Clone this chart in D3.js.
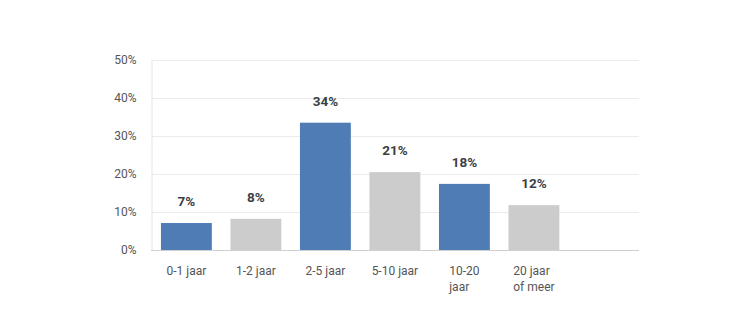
<!DOCTYPE html>
<html><head><meta charset="utf-8">
<script src="https://cdn.jsdelivr.net/npm/d3@7"></script>
<style>body{margin:0;background:#fff}</style>
</head><body>
<script>
const categories = [["0-1 jaar"], ["1-2 jaar"], ["2-5 jaar"], ["5-10 jaar"], ["10-20", "jaar"], ["20 jaar", "of meer"]];
const values = [7.1, 8.2, 33.5, 20.5, 17.4, 11.8];
const labels = ["7%", "8%", "34%", "21%", "18%", "12%"];
const barColors = ["#4f7cb5", "#cccccc", "#4f7cb5", "#cccccc", "#4f7cb5", "#cccccc"];
const yTicks = [0, 10, 20, 30, 40, 50];

const W = 740, H = 327;
const m = {left: 151, right: 101, top: 60, bottom: 77};
const pw = W - m.left - m.right, ph = H - m.top - m.bottom;
const font = "Roboto, 'Noto Sans', sans-serif";

const svg = d3.select("body").append("svg").attr("width", W).attr("height", H);
const keys = categories.map((c, i) => i);
const x = d3.scaleBand().domain(keys).range([m.left, m.left + pw * 6 / 7]).paddingInner(0.268).paddingOuter(0.143);
const y = d3.scaleLinear().domain([0, 50]).range([m.top + ph, m.top]);

// gridlines
svg.append("g").selectAll("line").data(yTicks.slice(1)).join("line")
  .attr("x1", m.left).attr("x2", m.left + pw)
  .attr("y1", d => y(d) + 0.5).attr("y2", d => y(d) + 0.5)
  .attr("stroke", "#ebebeb").attr("stroke-width", 1);

// y axis
const ya = svg.append("g").attr("transform", `translate(${m.left + 0.5},0)`)
  .call(d3.axisLeft(y).tickValues(yTicks).tickFormat(d => d + "%").tickSize(0).tickPadding(15));
ya.select(".domain").attr("stroke", "#e4e4e4");
ya.selectAll("text").attr("fill", "#555").style("font-family", font).style("font-size", "12px");

// bars
svg.append("g").selectAll("rect").data(values).join("rect")
  .attr("x", (d, i) => x(i)).attr("width", x.bandwidth())
  .attr("y", d => y(d)).attr("height", d => y(0) - y(d))
  .attr("fill", (d, i) => barColors[i]);

// value labels
svg.append("g").selectAll("text").data(values).join("text")
  .attr("x", (d, i) => x(i) + x.bandwidth() / 2)
  .attr("y", d => y(d) - 17)
  .attr("text-anchor", "middle").attr("fill", "#3b3f45")
  .style("font-family", font).style("font-size", "13.5px").style("font-weight", "bold")
  .text((d, i) => labels[i]);

// x axis line
svg.append("line").attr("x1", m.left).attr("x2", m.left + pw)
  .attr("y1", y(0) + 0.5).attr("y2", y(0) + 0.5).attr("stroke", "#cfcfcf");

// x labels: multi-line blocks centred on the widest line, lines left-aligned
svg.append("g").selectAll("text").data(categories).join("text")
  .attr("y", y(0) + 25)
  .attr("fill", "#555").style("font-family", font).style("font-size", "12px")
  .each(function(d, i) {
    const t = d3.select(this);
    t.selectAll("tspan").data(d).join("tspan")
      .attr("dy", (s, j) => j === 0 ? 0 : 15.5).text(s => s);
    const widths = t.selectAll("tspan").nodes().map(n => n.getComputedTextLength());
    const cx = x(i) + x.bandwidth() / 2;
    if (d.length > 1) {
      const wmax = d3.max(widths);
      t.selectAll("tspan").attr("x", cx - wmax / 2);
    } else {
      t.attr("text-anchor", "middle").selectAll("tspan").attr("x", cx);
    }
  });
</script>
</body></html>
